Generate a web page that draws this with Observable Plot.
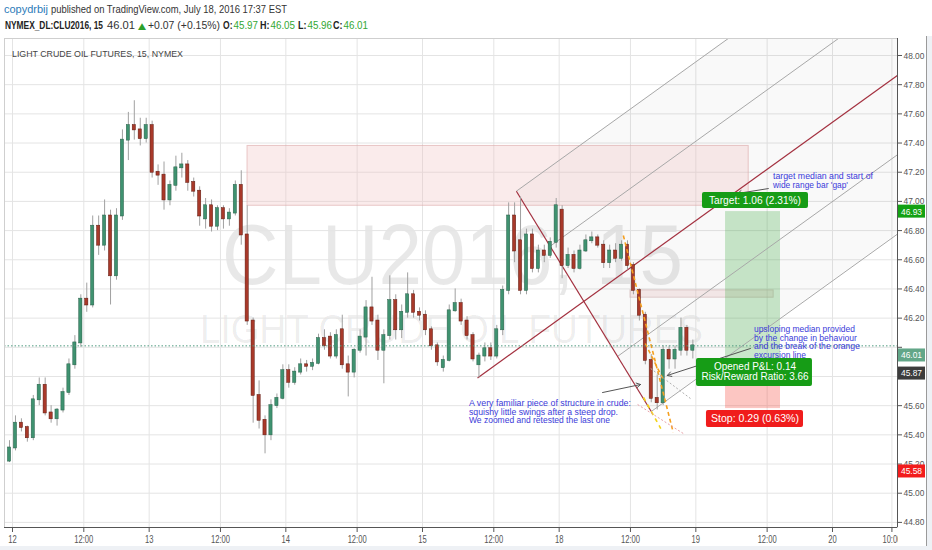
<!DOCTYPE html>
<html><head><meta charset="utf-8">
<script src="https://cdn.jsdelivr.net/npm/d3@7"></script>
<script src="https://cdn.jsdelivr.net/npm/@observablehq/plot@0.6"></script>
<style>
body{margin:0;background:#fff;width:932px;height:550px;overflow:hidden;font-family:"Liberation Sans",Arial,sans-serif}
svg{display:block}
</style></head><body>
<svg id="hdr" width="932" height="36"></svg>
<div id="chart"></div>
<script>
// ---- hourly candles, 12 Jul 00:00 (index 0) .. 18 Jul 23:00 (trading hours, 23 per day)
const opens = [45.22,45.31,45.48,45.45,45.38,45.64,45.74,45.55,45.51,45.57,45.69,45.88,46.03,46.33,46.29,46.83,46.70,46.90,46.49,46.90,47.42,47.52,47.49,47.43,47.52,47.20,47.18,47.01,47.11,47.23,47.25,47.13,47.07,46.88,46.97,46.83,46.95,46.88,46.92,47.11,46.77,46.18,45.67,45.50,45.40,45.60,45.65,45.84,45.76,45.83,45.88,45.87,45.89,46.06,46.07,45.94,46.12,45.88,45.83,45.98,46.07,46.27,46.18,45.98,46.08,46.32,46.12,46.24,46.36,46.24,46.22,46.12,46.01,45.86,45.91,46.25,46.30,46.18,46.08,45.88,45.94,45.99,45.94,46.12,46.39,46.90,46.73,46.39,46.77,46.54,46.66,46.63,46.72,46.94,46.56,46.63,46.54,46.66,46.73,46.75,46.70,46.58,46.66,46.61,46.70,46.56,46.39,46.22,45.91,45.65,45.62,45.98,45.92,45.98,46.13,45.98];
const highs = [45.36,45.53,45.51,45.46,45.67,45.79,45.79,45.60,45.58,45.72,45.92,46.08,46.36,46.44,46.90,46.90,47.01,46.94,46.95,47.49,47.61,47.69,47.57,47.57,47.55,47.25,47.27,47.14,47.31,47.33,47.28,47.16,47.10,47.02,47.01,46.97,46.97,46.95,47.14,47.21,46.97,46.20,45.77,45.53,45.64,45.68,45.88,45.88,45.86,45.92,45.91,45.92,46.09,46.12,46.10,46.12,46.22,45.94,45.99,46.12,46.32,46.48,46.22,46.12,46.49,46.36,46.29,46.51,46.39,46.27,46.25,46.14,46.03,45.94,46.29,46.40,46.33,46.21,46.10,45.96,46.03,46.03,46.15,46.42,46.99,46.99,47.03,46.81,46.81,46.70,46.70,46.75,47.02,46.97,46.68,46.66,46.70,46.77,46.79,46.77,46.73,46.70,46.71,46.73,46.73,46.58,46.40,46.24,45.95,45.81,46.01,46.01,46.01,46.20,46.15,46.05];
const lows = [45.21,45.29,45.42,45.35,45.36,45.60,45.53,45.48,45.46,45.55,45.67,45.85,46.00,46.24,46.27,46.63,46.66,46.29,46.46,46.87,47.28,47.42,47.38,47.40,47.16,47.11,46.94,46.97,47.07,47.16,47.07,47.03,46.83,46.81,46.79,46.80,46.81,46.83,46.90,46.70,46.15,45.48,45.44,45.27,45.36,45.58,45.64,45.72,45.74,45.81,45.83,45.84,45.88,45.98,45.92,45.92,45.85,45.66,45.79,45.96,45.94,46.15,45.91,45.75,46.05,46.05,46.06,46.20,46.20,46.18,46.08,45.98,45.87,45.83,45.90,46.24,46.15,46.05,45.90,45.79,45.90,45.91,45.92,46.08,46.36,46.58,46.36,46.36,46.51,46.51,46.58,46.61,46.68,46.47,46.54,46.51,46.53,46.65,46.71,46.68,46.54,46.54,46.58,46.59,46.53,46.36,46.18,45.88,45.62,45.57,45.60,45.85,45.85,45.94,45.94,45.92];
const closes = [45.31,45.48,45.45,45.38,45.64,45.74,45.55,45.51,45.57,45.69,45.88,46.03,46.33,46.29,46.83,46.70,46.90,46.49,46.90,47.42,47.52,47.49,47.43,47.52,47.20,47.18,47.01,47.11,47.23,47.25,47.13,47.07,46.90,46.97,46.83,46.95,46.88,46.92,47.11,46.77,46.18,45.67,45.50,45.40,45.60,45.65,45.84,45.76,45.83,45.88,45.87,45.89,46.06,46.01,45.94,46.08,45.88,45.83,45.98,46.07,46.27,46.18,45.98,46.08,46.32,46.12,46.24,46.36,46.24,46.22,46.12,46.01,45.90,45.91,46.25,46.30,46.18,46.08,45.92,45.94,45.99,45.94,46.12,46.39,46.90,46.66,46.39,46.77,46.54,46.66,46.63,46.72,46.97,46.56,46.63,46.54,46.66,46.73,46.75,46.70,46.58,46.66,46.61,46.70,46.56,46.39,46.22,45.91,45.65,45.62,45.98,45.92,45.98,46.13,45.98,46.01];

// ---- axes
const xTickPos = [0,12,23,35,46,58,69,81,92,104,115,127,138,148];
const xTickLabels = ["12","12:00","13","12:00","14","12:00","15","12:00","18","12:00","19","12:00","20","10:00"];
const yTicks = [44.8,45.0,45.2,45.4,45.6,45.8,46.0,46.2,46.4,46.6,46.8,47.0,47.2,47.4,47.6,47.8,48.0];
const yHidden = [45.8,46.0]; // tick labels covered by price labels

// ---- header values
const symbol = "NYMEX_DL:CLU2016, 15";
const lastPrice = 46.01, change = "+0.07 (+0.15%)";
const ohlcNames = ["O:","H:","L:","C:"];
const ohlcValues = ["45.97","46.05","45.96","46.01"];

// ---- trade / drawings (time in trading hours, price in $)
const entry = 45.87, target = 46.93, stop = 45.58;
const pfA = {t:78.26, p:45.79}, pfB = {t:84.8, p:47.07}, pfC = {t:107.5, p:45.56};
const rects = [{t1:39.55,t2:123.9,p1:46.97,p2:47.38},{t1:104.0,t2:128.1,p1:46.34,p2:46.39}];
const orangeLines = [{t1:102.8,p1:46.766,t2:111.2,p2:45.416},{t1:106.5,p1:46.026,t2:109.6,p2:45.772}];
const yellowLines = [{t1:106.2,p1:45.656,t2:109.1,p2:45.443}];
const pinkLines = [{t1:105.2,p1:45.608,t2:112.9,p2:45.409}];
const greyLines = [{t1:107.4,p1:45.855,t2:114.1,p2:45.649}];
const arrows = [{t1:127.2,p1:47.088,t2:122.0,p2:47.054},{t1:124.2,p1:45.992,t2:110.2,p2:45.807},{t1:99.3,p1:45.69,t2:105.7,p2:45.745}];
const zoneT = [120.0, 129.25];
const boxes = [
  {t1:116.12,t2:133.96,p1:46.951,p2:47.061,fill:"#169c16"},
  {t1:115.11,t2:134.63,p1:45.731,p2:45.923,fill:"#169c16"},
  {t1:116.79,t2:133.12,p1:45.450,p2:45.567,fill:"#f01c1c"}
];
const boxTexts = [
  {t:125.04,p:46.979,s:"Target: 1.06 (2.31%)",w:92},
  {t:125.04,p:45.841,s:"Opened P&L: 0.14",w:82},
  {t:125.04,p:45.772,s:"Risk/Reward Ratio: 3.66",w:107},
  {t:125.04,p:45.485,s:"Stop: 0.29 (0.63%)",w:88}
];
const notes = [
  {t:128.07,p:47.150,lines:["target median and start of","wide range bar 'gap'"],w:[100,75]},
  {t:124.87,p:46.101,lines:["upsloping median provided","by the change in behaviour","and the break of the orange","excursion line"],w:[101,103,106,52]},
  {t:76.91,p:45.594,lines:["A very familiar piece of structure in crude:","squishy little swings after a steep drop.","We zoomed and retested the last one"],w:[162,149,141]}
];
const priceLabels = [
  {s:"46.93",at:46.93,fill:"#13a113"},
  {s:"46.01",at:45.944,fill:"#62a688"},
  {s:"45.87",at:45.82,fill:"#3c3c3c"},
  {s:"45.58",at:45.149,fill:"#f21c1c"}
];

// ---- derived
const candles = closes.map((c,i)=>({t:i-0.5,o:opens[i],h:highs[i],l:lows[i],c}));
const up = "#3f9270", upS = "#285f48", dn = "#a8392a", dnS = "#5e1a10";
const xDom = [-1.346, 148.94], yDom = [44.765, 48.1165];
const tEnd = 170;
const mid = {t:(pfB.t+pfC.t)/2, p:(pfB.p+pfC.p)/2};
const slope = (mid.p-pfA.p)/(mid.t-pfA.t);
const pfGrey = [0,0.25,0.75,1].map(f=>{const t0=pfB.t+f*(pfC.t-pfB.t), p0=pfB.p+f*(pfC.p-pfB.p); return {t1:t0,p1:p0,t2:tEnd,p2:p0+slope*(tEnd-t0)};});
const pfRed = [{t1:pfA.t,p1:pfA.p,t2:tEnd,p2:pfA.p+slope*(tEnd-pfA.t)},{t1:pfB.t,p1:pfB.p,t2:pfC.t,p2:pfC.p}];
const upper = t => pfB.p+slope*(t-pfB.t);
const pfFill = [{t:pfB.t,lo:pfB.p,hi:pfB.p},{t:pfC.t,lo:pfC.p,hi:upper(pfC.t)},{t:tEnd,lo:pfC.p+slope*(tEnd-pfC.t),hi:upper(tEnd)}];
const lab = new Map(xTickPos.map((d,i)=>[d,xTickLabels[i]]));
const L = {x1:"t1",x2:"t2",y1:"p1",y2:"p2"};

const chart = Plot.plot({
  width:932, height:514,
  marginLeft:4, marginRight:35, marginTop:2, marginBottom:23,
  x:{domain:xDom}, y:{domain:yDom},
  style:{fontFamily:"Liberation Sans, Arial, sans-serif",fontSize:"10px",background:"#fff",color:"#555"},
  marks:[
    Plot.gridX(xTickPos,{stroke:"#e4e4e4",strokeOpacity:1}),
    Plot.gridY(yTicks,{stroke:"#e4e4e4",strokeOpacity:1}),
    Plot.areaY(pfFill,{x:"t",y1:"lo",y2:"hi",fill:"#000",fillOpacity:0.025,clip:true}),
    Plot.rect(rects.slice(0,1),{...L,fill:"#f0c0c0",fillOpacity:0.32,stroke:"#dca6a6",strokeOpacity:0.6}),
    Plot.rect(rects.slice(1),{...L,fill:"#e0b0b0",fillOpacity:0.25,stroke:"#d0b4b4",strokeOpacity:0.6}),
    Plot.rect([{t1:zoneT[0],t2:zoneT[1],p1:entry,p2:target}],{...L,fill:"#4caf50",fillOpacity:0.3}),
    Plot.rect([{t1:zoneT[0],t2:zoneT[1],p1:stop,p2:entry}],{...L,fill:"#f44336",fillOpacity:0.3}),
    Plot.link(pfGrey,{...L,stroke:"#a8a8a8",strokeWidth:1,clip:true}),
    Plot.link(pfRed,{...L,stroke:"#a3303f",strokeWidth:1.2,clip:true}),
    Plot.ruleX(candles,{x:"t",y1:"l",y2:"h",stroke:"#a0a0a0",strokeWidth:1}),
    Plot.rect(candles,{x1:d=>d.t-0.27,x2:d=>d.t+0.27,y1:"o",y2:"c",fill:d=>d.c>=d.o?up:dn,stroke:d=>d.c>=d.o?upS:dnS,strokeWidth:0.5,insetTop:-0.5,insetBottom:-0.5}),
    Plot.link(orangeLines,{...L,stroke:"#f5a020",strokeWidth:1.6,strokeDasharray:"4,3"}),
    Plot.link(yellowLines,{...L,stroke:"#f2d21a",strokeWidth:1.6,strokeDasharray:"4,4"}),
    Plot.link(pinkLines,{...L,stroke:"#e8a0a8",strokeWidth:1,strokeDasharray:"2,2"}),
    Plot.link(greyLines,{...L,stroke:"#b0b0b0",strokeWidth:1,strokeDasharray:"2,2"}),
    Plot.arrow(arrows,{...L,stroke:"#555",strokeWidth:1,headLength:7}),
    Plot.ruleY([lastPrice],{stroke:"#4e9a7f",strokeDasharray:"1.5,2"}),
    Plot.rect(boxes,{...L,fill:"fill",rx:2}),
    Plot.frame({stroke:"#cfcfcf"}),
    Plot.ruleX([xDom[1]],{stroke:"#555"}),
    Plot.ruleY([yDom[0]],{stroke:"#555"}),
    Plot.axisX(xTickPos,{anchor:"bottom",tickSize:5,tickPadding:3,tickFormat:d=>lab.get(d),label:null,fontSize:10}),
    Plot.axisY(yTicks,{anchor:"right",tickSize:4,tickPadding:2,tickFormat:d=>yHidden.includes(d)?"":d.toFixed(2),label:null,fontSize:9.5})
  ]
});
document.getElementById("chart").appendChild(chart);

const F = "Liberation Sans, Arial, sans-serif";
function txt(g,x,y,s,o={}){
  const e=g.append("text").attr("x",x).attr("y",y).text(s)
    .attr("font-size",o.size||10).attr("fill",o.fill||"#333").attr("font-family",o.family||F)
    .attr("text-anchor",o.anchor||"start");
  if(o.weight) e.attr("font-weight",o.weight);
  if(o.len) e.attr("textLength",o.len).attr("lengthAdjust","spacingAndGlyphs");
  return e;
}
function condense(nodes,f){nodes.forEach(n=>{const w=n.getComputedTextLength();if(w>0){n.setAttribute("textLength",w*f);n.setAttribute("lengthAdjust","spacingAndGlyphs");}});}
condense(chart.querySelectorAll('g[aria-label="x-axis tick label"] text'),0.76);
condense(chart.querySelectorAll('g[aria-label="y-axis tick label"] text'),0.88);

const sx = chart.scale("x"), sy = chart.scale("y");
const svg = d3.select(chart);

// watermark behind marks
const wm = svg.insert("g",":first-child");
svg.insert("rect",":first-child").attr("width",932).attr("height",514).attr("fill","#fff");
txt(wm,222,248,"CLU2016, 15",{size:86,fill:"rgba(0,0,0,0.09)",len:461});
txt(wm,200,307,"LIGHT CRUDE OIL FUTURES",{size:40,fill:"rgba(0,0,0,0.075)",len:503});

const ov = svg.append("g");
txt(ov,12,20.5,"LIGHT CRUDE OIL FUTURES, 15, NYMEX",{size:9.5,fill:"#444",len:171});
notes.forEach(n=>{
  const x0=sx.apply(n.t), y0=sy.apply(n.p);
  n.lines.forEach((s,i)=>txt(ov,x0,y0+i*8.5,s,{size:9,fill:"#3b3bd9",len:n.w[i]}));
});
boxTexts.forEach(b=>txt(ov,sx.apply(b.t),sy.apply(b.p),b.s,{size:11,fill:"#fff",anchor:"middle",len:b.w}));
// price-axis column corner & right border
ov.append("rect").attr("x",898).attr("y",492).attr("width",28).attr("height",22).attr("fill","#fff");
ov.append("rect").attr("x",926).attr("y",0).attr("width",6).attr("height",514).attr("fill","#eef1f5");
ov.append("line").attr("x1",926.5).attr("x2",926.5).attr("y1",0).attr("y2",510).attr("stroke","#9a9a9a");
ov.append("rect").attr("x",0).attr("y",510).attr("width",932).attr("height",4).attr("fill","#eef1f5");
priceLabels.forEach(l=>{
  const y=sy.apply(l.at);
  ov.append("rect").attr("x",898).attr("y",y-6.5).attr("width",27).attr("height",13).attr("fill",l.fill);
  txt(ov,911.5,y+3.4,l.s,{size:9.5,fill:"#fff",anchor:"middle",len:21});
});

// header
const h = d3.select("#hdr");
const G = "#33a833";
txt(h,4,13,"copydrbij",{size:10.5,fill:"#2b7bb9",len:44});
txt(h,51,13,"published on TradingView.com, July 18, 2016 17:37 EST",{size:10.5,fill:"#333",len:236});
txt(h,5,29,symbol,{size:10.5,fill:"#222",weight:"bold",len:98});
txt(h,107,29,lastPrice.toFixed(2),{size:10.5,fill:"#333",len:28});
txt(h,138,29,"\u25B2",{size:9,fill:"#2ca02c",len:8,family:"DejaVu Sans"});
txt(h,148,29,change,{size:10.5,fill:"#333",len:72});
const ox=[223,260,298,333], vx=[233.5,270.5,307.5,343.5];
ohlcNames.forEach((n,i)=>{
  txt(h,ox[i],29,n,{size:10.5,fill:"#222",weight:"bold",len:i==2?8.5:9.5});
  txt(h,vx[i],29,ohlcValues[i],{size:10.5,fill:G,len:24.5});
});
</script></body></html>
